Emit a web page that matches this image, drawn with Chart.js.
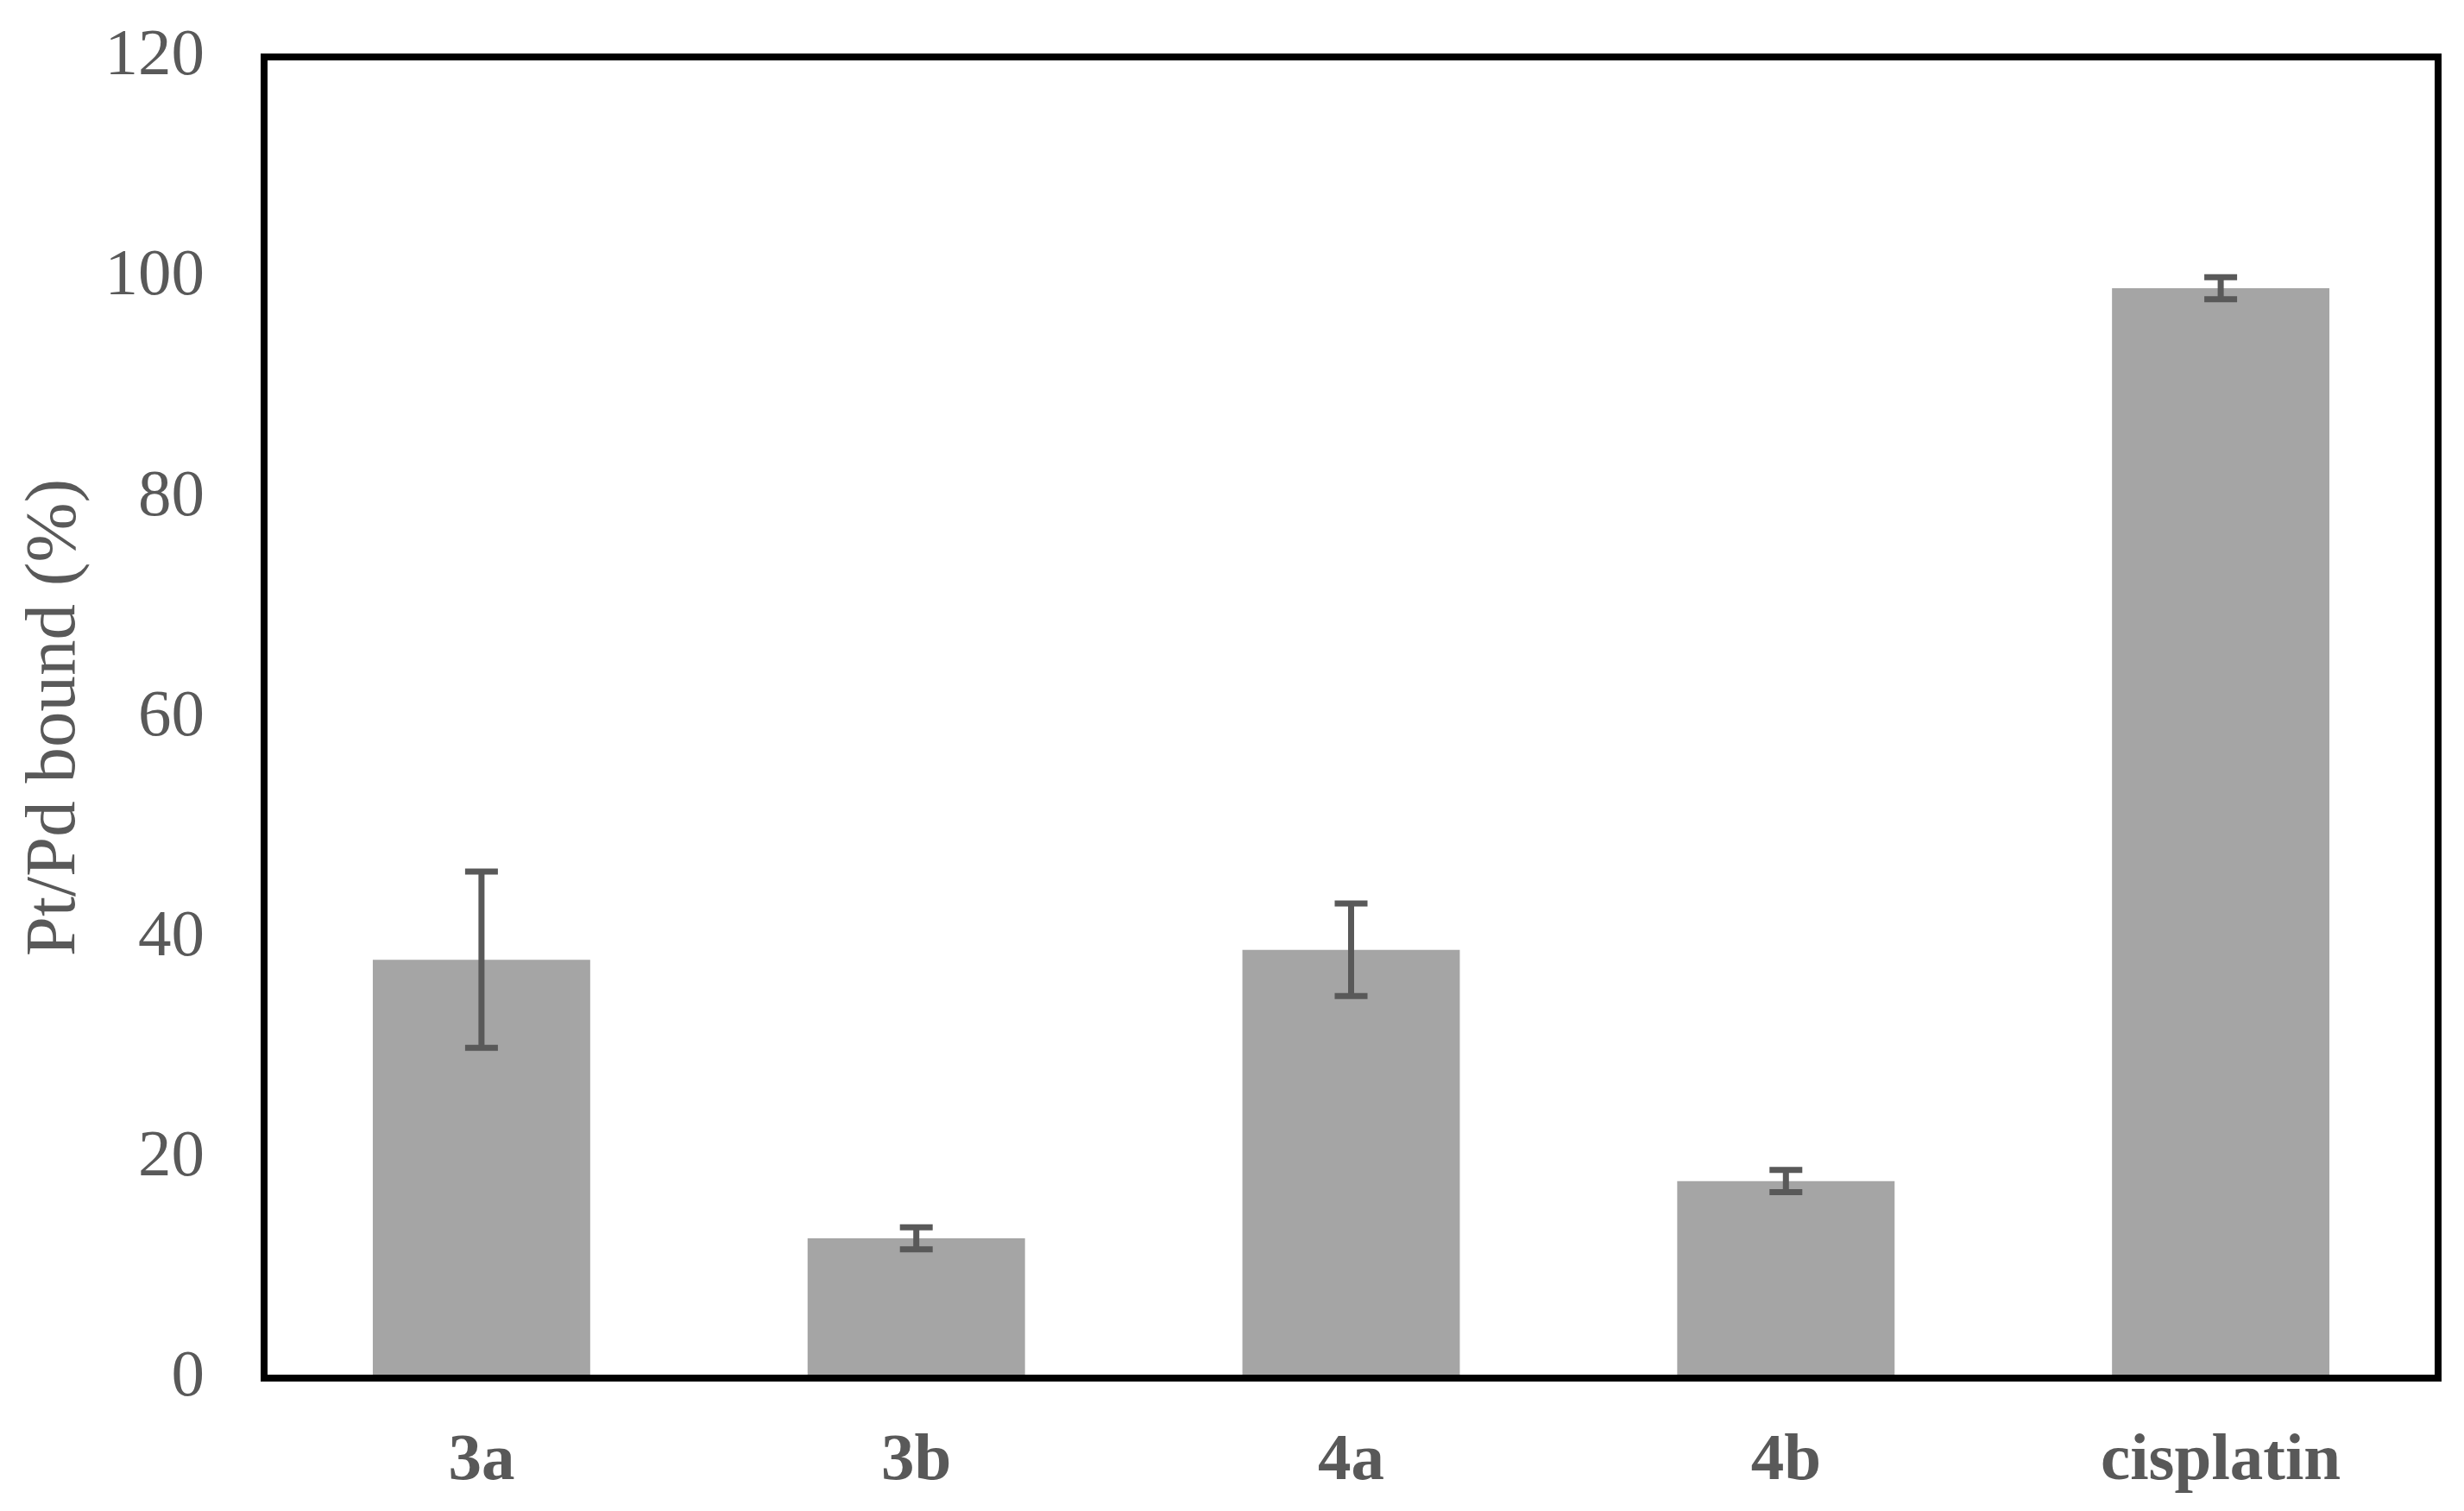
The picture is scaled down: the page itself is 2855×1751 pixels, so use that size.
<!DOCTYPE html>
<html>
<head>
<meta charset="utf-8">
<script src="https://cdn.jsdelivr.net/npm/chart.js@4.4.1/dist/chart.umd.min.js"></script>
<style>
  html, body { margin: 0; padding: 0; background: #fff; }
  #wrap { width: 2855px; height: 1751px; }
</style>
</head>
<body>
<div id="wrap"><canvas id="bar-chart"></canvas></div>
<script>
// data
var compounds = ['3a', '3b', '4a', '4b', 'cisplatin'];
var boundPct = [38, 12.7, 38.9, 17.9, 99];
var boundErr = [8, 1, 4.2, 1, 1];
var yTicks = [0, 20, 40, 60, 80, 100, 120];

var serif = "'Liberation Serif', 'Times New Roman', serif";
var textGrey = '#595959';

// black box round the plot area
var frameBox = {
  id: 'frameBox',
  afterDatasetsDraw: function(chart) {
    var a = chart.chartArea, ctx = chart.ctx;
    ctx.save();
    ctx.strokeStyle = '#000';
    ctx.lineWidth = 8;
    ctx.strokeRect(a.left, a.top, a.right - a.left, a.bottom - a.top);
    ctx.restore();
  }
};

// error bars, placed with the chart's own scales
var errorBars = {
  id: 'errorBars',
  afterDatasetsDraw: function(chart) {
    var ctx = chart.ctx;
    var y = chart.scales.y;
    var meta = chart.getDatasetMeta(0);
    ctx.save();
    ctx.strokeStyle = '#595959';
    ctx.lineWidth = 7;
    ctx.lineCap = 'butt';
    meta.data.forEach(function(bar, i) {
      var hi = y.getPixelForValue(boundPct[i] + boundErr[i]);
      var lo = y.getPixelForValue(boundPct[i] - boundErr[i]);
      var cap = 19;
      ctx.beginPath();
      ctx.moveTo(bar.x, hi);
      ctx.lineTo(bar.x, lo);
      ctx.moveTo(bar.x - cap, hi);
      ctx.lineTo(bar.x + cap, hi);
      ctx.moveTo(bar.x - cap, lo);
      ctx.lineTo(bar.x + cap, lo);
      ctx.stroke();
    });
    ctx.restore();
  }
};

var ctx = document.getElementById('bar-chart').getContext('2d');

var chart = new Chart(ctx, {
  type: 'bar',
  data: {
    labels: compounds,
    datasets: [{
      data: boundPct,
      backgroundColor: '#A5A5A5',
      borderWidth: 0,
      barPercentage: 0.5,
      categoryPercentage: 1.0
    }]
  },
  options: {
    responsive: true,
    maintainAspectRatio: false,
    animation: false,
    layout: { padding: { top: 66, right: 30, bottom: 0, left: 0 } },
    plugins: {
      legend: { display: false },
      tooltip: { enabled: false }
    },
    scales: {
      x: {
        grid: { display: false },
        border: { display: false },
        ticks: {
          color: textGrey,
          padding: 43,
          font: { family: serif, size: 77, weight: 'bold' }
        },
        afterFit: function(s) {
          s.height = 154;
          s.paddingLeft = 0;
          s.paddingRight = 0;
        }
      },
      y: {
        min: 0,
        max: 120,
        afterBuildTicks: function(s) {
          s.ticks = yTicks.map(function(v) { return { value: v }; });
        },
        grid: { display: false },
        border: { display: false },
        ticks: {
          color: textGrey,
          padding: 61,
          font: { family: serif, size: 77 }
        },
        title: {
          display: true,
          text: 'Pt/Pd bound (%)',
          color: textGrey,
          padding: { top: 14, bottom: 0 },
          font: { family: serif, size: 83 }
        },
        afterFit: function(s) {
          s.width = 306;
          s.paddingTop = 0;
          s.paddingBottom = 0;
        }
      }
    }
  },
  plugins: [errorBars, frameBox]
});
</script>
</body>
</html>
